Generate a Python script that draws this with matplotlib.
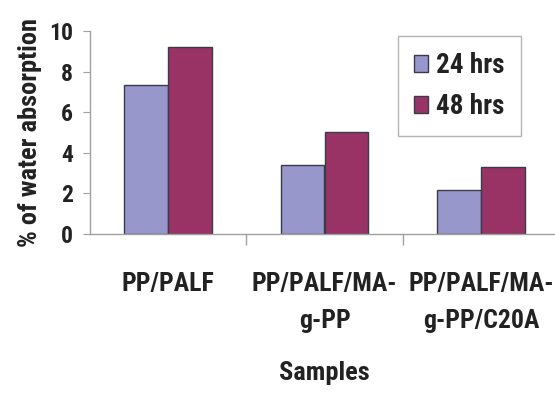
import numpy as np
import matplotlib.pyplot as plt

# water absorption (%) after immersion
samples = ["PP/PALF", "PP/PALF/MA-\ng-PP", "PP/PALF/MA-\ng-PP/C20A"]
hrs_24 = [7.35, 3.4, 2.17]
hrs_48 = [9.22, 5.02, 3.3]
series_labels = ["24 hrs", "48 hrs"]
yticks = [0, 2, 4, 6, 8, 10]

plt.rcParams['font.family'] = ['Roboto Condensed', 'Archivo Narrow', 'DejaVu Sans']
plt.rcParams['font.weight'] = 'bold'
plt.rcParams['axes.labelweight'] = 'bold'
ink = "#222222"

fig = plt.figure(figsize=(5.55, 3.94), dpi=100)
ax = fig.add_axes([90/555, 1 - 234/394, 469/555, 203/394])

x = np.arange(len(samples))
w = 0.28
ax.bar(x - w/2, hrs_24, w, color="#9797cb", edgecolor="#3a3a4a", linewidth=1.0, label=series_labels[0])
ax.bar(x + w/2, hrs_48, w, color="#993366", edgecolor="#3a3a4a", linewidth=1.0, label=series_labels[1])

ax.set_xlim(-0.5, 2.5)
ax.set_ylim(0, 10)
ax.set_yticks(yticks)
ax.set_xticks(x)
ax.set_xticklabels(samples, fontsize=18.5, linespacing=1.7, color=ink)
ax.set_xticks([0.5, 1.5], minor=True)
ax.tick_params(axis='x', which='major', length=0, pad=27)
ax.tick_params(axis='x', which='minor', length=8, color="#a0a0a0", width=1)
ax.tick_params(axis='y', length=5, color="#a0a0a0", labelsize=17, pad=7, labelcolor=ink)

for s in ["top", "right"]:
    ax.spines[s].set_visible(False)
for s in ["left", "bottom"]:
    ax.spines[s].set_color("#a0a0a0")
    ax.spines[s].set_linewidth(1.0)

ax.set_ylabel("% of water absorption", fontsize=19, color=ink, labelpad=5)
ax.set_xlabel("Samples", fontsize=19, color=ink, labelpad=20)

leg = ax.legend(loc='upper left', bbox_to_anchor=(398/555, 1 - 36/394), bbox_transform=fig.transFigure,
                borderaxespad=0, fontsize=19.5, frameon=True, fancybox=False, edgecolor="#a0a0a0",
                handlelength=0.5, handleheight=0.6, handletextpad=0.3, labelspacing=0.5,
                borderpad=0.6)
leg.get_frame().set_linewidth(1.0)
for t in leg.get_texts():
    t.set_color(ink)

fig.savefig("out.png", dpi=100)
